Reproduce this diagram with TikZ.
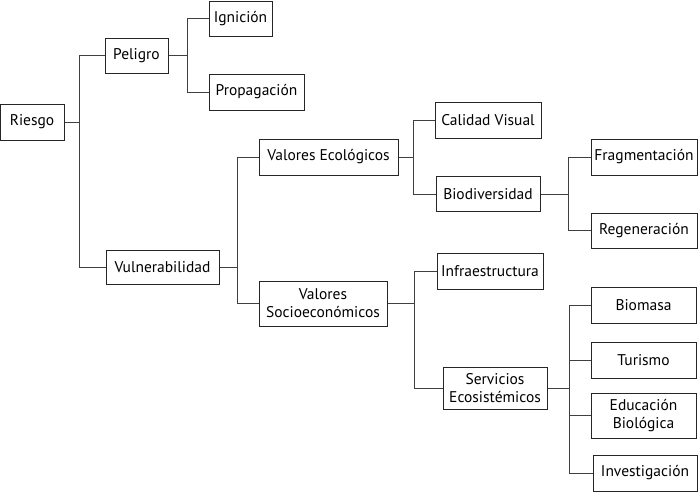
\documentclass[tikz,border=0pt]{standalone}
\usepackage{fontspec}
\setmainfont{PT Sans}
\begin{document}
\begin{tikzpicture}[x=1pt,y=-1pt,
    box/.style={draw=black!85, line width=1pt, align=center, inner sep=0pt,
      font=\fontsize{15.5}{18}\selectfont},
    link/.style={draw=black!75, line width=0.9pt}]
\useasboundingbox (0,0) rectangle (700,493);

% nodes
\node[box, minimum width=64, minimum height=36] (riesgo) at (32,122) {Riesgo};
\node[box, minimum width=63, minimum height=35] (peligro) at (136.5,55.5) {Peligro};
\node[box, minimum width=63, minimum height=35] (ignicion) at (240.5,18.5) {Ignición};
\node[box, minimum width=95, minimum height=36] (propagacion) at (256.5,92) {Propagación};
\node[box, minimum width=113, minimum height=34] (vuln) at (162.5,267) {Vulnerabilidad};
\node[box, minimum width=139, minimum height=36] (ecologicos) at (328.5,157) {Valores Ecológicos};
\node[box, minimum width=106, minimum height=36] (calidad) at (488,120) {Calidad Visual};
\node[box, minimum width=104, minimum height=35] (biodiv) at (488,194) {Biodiversidad};
\node[box, minimum width=106, minimum height=36] (fragment) at (644,157) {Fragmentación};
\node[box, minimum width=106, minimum height=35] (regen) at (644,230.5) {Regeneración};
\node[box, minimum width=128, minimum height=45] (socio) at (323,303.5) {Valores\\Socioeconómicos};
\node[box, minimum width=106, minimum height=36] (infra) at (490,271) {Infraestructura};
\node[box, minimum width=104, minimum height=42] (servicios) at (495,388) {Servicios\\Ecosistémicos};
\node[box, minimum width=105, minimum height=36] (biomasa) at (643.5,305) {Biomasa};
\node[box, minimum width=105, minimum height=36] (turismo) at (643.5,360) {Turismo};
\node[box, minimum width=105, minimum height=45] (educacion) at (643.5,415.5) {Educación\\Biológica};
\node[box, minimum width=104, minimum height=36] (investigacion) at (645,473) {Investigación};

% connectors
\draw[link] (riesgo.east) -- ++(15,0) coordinate (b1);
\draw[link] (peligro.west) -| (b1) |- (vuln.west);
\draw[link] (peligro.east) -- ++(19,0) coordinate (b2);
\draw[link] (ignicion.west) -| (b2) |- (propagacion.west);
\draw[link] (vuln.east) -- ++(18,0) coordinate (b3);
\draw[link] (ecologicos.west) -| (b3) |- (socio.west);
\draw[link] (ecologicos.east) -- ++(15,0) coordinate (b4);
\draw[link] (calidad.west) -| (b4) |- (biodiv.west);
\draw[link] (biodiv.east) -- ++(28,0) coordinate (b5);
\draw[link] (fragment.west) -| (b5) |- (regen.west);
\draw[link] (socio.east) -- ++(27,0) coordinate (b6);
\draw[link] (infra.west) -| (b6) |- (servicios.west);
\draw[link] (servicios.east) -- ++(22,0) coordinate (b7);
\draw[link] (biomasa.west) -| (b7) |- (investigacion.west);
\draw[link] (b7 |- turismo) -- (turismo.west);
\draw[link] (b7 |- educacion) -- (educacion.west);
\end{tikzpicture}
\end{document}
